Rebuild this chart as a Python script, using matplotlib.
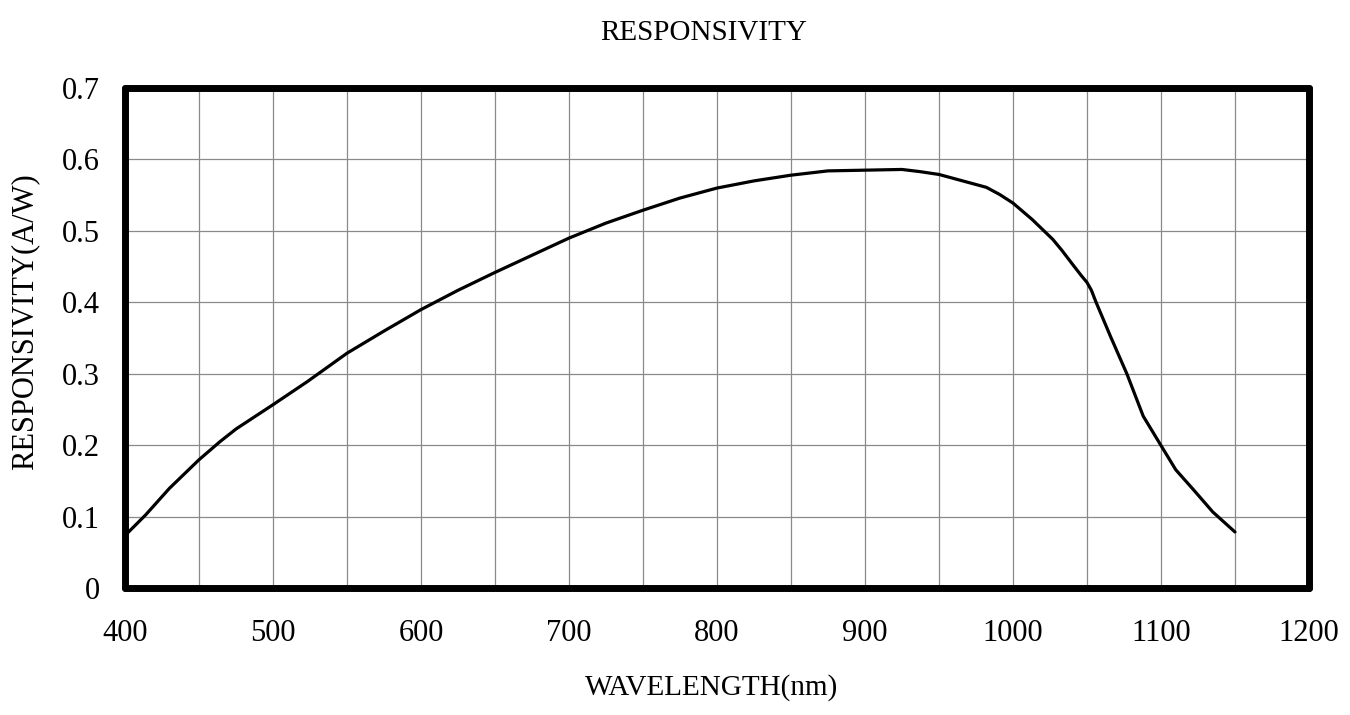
import matplotlib
matplotlib.use("Agg")
import matplotlib.pyplot as plt
from matplotlib.ticker import MultipleLocator

plt.rcParams['font.family'] = ['Liberation Serif', 'DejaVu Serif']

# curve
wavelength = [400, 414, 430, 450, 464, 475, 500, 523, 550, 575, 600, 625, 650, 675,
              700, 725, 750, 775, 800, 825, 850, 875, 900, 925, 937, 950, 966, 982,
              991, 1000, 1013, 1027, 1033, 1040, 1046, 1050, 1053, 1056, 1066, 1077,
              1088, 1100, 1110, 1122, 1135, 1150]
responsivity = [0.074, 0.103, 0.140, 0.180, 0.205, 0.223, 0.257, 0.289, 0.329, 0.360,
                0.390, 0.417, 0.442, 0.466, 0.490, 0.511, 0.529, 0.546, 0.560, 0.570,
                0.578, 0.584, 0.585, 0.586, 0.583, 0.579, 0.570, 0.561, 0.551, 0.539,
                0.516, 0.488, 0.473, 0.454, 0.438, 0.428, 0.417, 0.401, 0.352, 0.300,
                0.241, 0.200, 0.166, 0.138, 0.107, 0.079]

fig = plt.figure(figsize=(13.5, 7.15), dpi=100)
ax = fig.add_axes([0.0926, 0.177, 0.877, 0.700])

ax.plot(wavelength, responsivity, color='black', lw=2.3, solid_capstyle='round',
        solid_joinstyle='round', zorder=3)

ax.set_xlim(400, 1200)
ax.set_ylim(0, 0.7)
ax.xaxis.set_major_locator(MultipleLocator(100))
ax.xaxis.set_minor_locator(MultipleLocator(50))
ax.set_yticks([0, 0.1, 0.2, 0.3, 0.4, 0.5, 0.6, 0.7])
ax.set_yticklabels(['0', '0.1', '0.2', '0.3', '0.4', '0.5', '0.6', '0.7'])
ax.grid(True, which='both', color='#8a8a8a', lw=0.9)
ax.tick_params(which='both', length=0, labelsize=22)
ax.tick_params(axis='x', pad=22)
ax.tick_params(axis='y', pad=18)

for sp in ax.spines.values():
    sp.set_linewidth(5)
    sp.set_capstyle('round')
    sp.set_joinstyle('round')
    sp.set_zorder(4)

fig.text(0.521, 0.954, 'RESPONSIVITY', ha='center', va='center', fontsize=21)
fig.text(0.527, 0.039, 'WAVELENGTH(nm)', ha='center', va='center', fontsize=21)
fig.text(0.0185, 0.55, 'RESPONSIVITY(A/W)', ha='center', va='center', fontsize=22,
         rotation=90)

fig.savefig('out.png', dpi=100)
